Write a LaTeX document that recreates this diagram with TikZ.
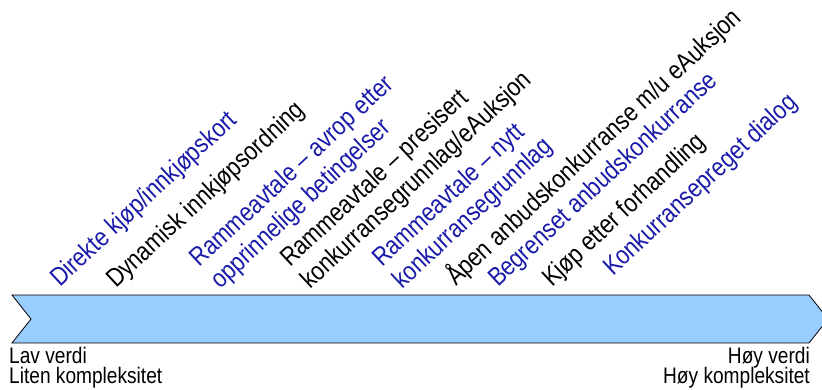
\documentclass[tikz,border=0pt]{standalone}
\usepackage{fontspec}
\setmainfont{Liberation Sans}
\newfontfamily\narrowsans[FakeStretch=0.85]{Liberation Sans}
\definecolor{lblue}{RGB}{25,25,170}
\definecolor{arrowfill}{RGB}{153,204,255}
\begin{document}
\begin{tikzpicture}[x=1pt,y=1pt,
  diag/.style={anchor=base west, rotate=43, inner sep=0pt, font=\narrowsans\fontsize{26}{30}\selectfont},
  bluelab/.style={diag, text=lblue},
  blacklab/.style={diag, text=black},
  endlab/.style={inner sep=0pt, font=\narrowsans\fontsize{22.5}{25}\selectfont}]
\useasboundingbox (0,0) rectangle (822,389);
\clip (0,0) rectangle (822,389);
% chevron arrow
\draw[fill=arrowfill, line width=0.8pt, line join=miter]
  (12,94) -- (809,94) -- (828,70) -- (809,46) -- (12,46) -- (31,70) -- cycle;
% diagonal labels
\node[bluelab]  (l1)  at (60,101)   {Direkte kjøp/innkjøpskort};
\node[blacklab] (l2)  at (116,100)  {Dynamisk innkjøpsordning};
\node[bluelab]  (l3a) at (199.5,121) {Rammeavtale – avrop etter};
\node[bluelab]  (l3b) at (220,99)   {opprinnelige betingelser};
\node[blacklab] (l4a) at (290,121)  {Rammeavtale – presisert};
\node[blacklab] (l4b) at (310,99)   {konkurransegrunnlag/eAuksjon};
\node[bluelab]  (l5a) at (382,121)  {Rammeavtale – nytt};
\node[bluelab]  (l5b) at (402,99)   {konkurransegrunnlag};
\node[blacklab] (l6)  at (456,102)  {Åpen anbudskonkurranse m/u eAuksjon};
\node[bluelab]  (l7)  at (498,101)  {Begrenset anbudskonkurranse};
\node[blacklab] (l8)  at (552,101)  {Kjøp etter forhandling};
\node[bluelab]  (l9)  at (613,112)  {Konkurransepreget dialog};
% end labels
\node[endlab, anchor=base west] (lo1) at (9,26) {Lav verdi};
\node[endlab, anchor=base west] (lo2) at (9,5.5)  {Liten kompleksitet};
\node[endlab, anchor=base east] (hi1) at (810,26) {Høy verdi};
\node[endlab, anchor=base east] (hi2) at (810,5.5)  {Høy kompleksitet};
\end{tikzpicture}
\end{document}
